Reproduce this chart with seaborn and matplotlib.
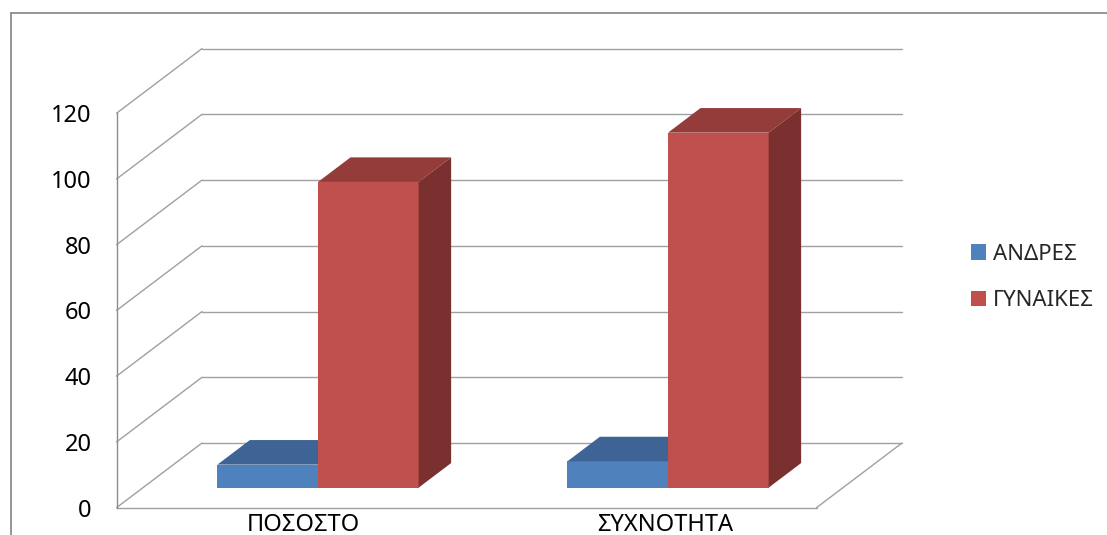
import matplotlib
matplotlib.use("Agg")
import matplotlib.pyplot as plt
import matplotlib.transforms as mtransforms
from matplotlib.patches import Polygon, Patch
from matplotlib.lines import Line2D
import pandas as pd
import seaborn as sns

# ---- data -------------------------------------------------------------
categories = ["ΠΟΣΟΣΤΟ", "ΣΥΧΝΟΤΗΤΑ"]
groups = ["ΑΝΔΡΕΣ", "ΓΥΝΑΙΚΕΣ"]
men = [7, 8]
women = [93, 108]
y_ticks = [0, 20, 40, 60, 80, 100, 120]

# ---- styling ----------------------------------------------------------
front_col = {"ΑΝΔΡΕΣ": "#4F81BD", "ΓΥΝΑΙΚΕΣ": "#C0504D"}
top_col = {"ΑΝΔΡΕΣ": "#3D6494", "ΓΥΝΑΙΚΕΣ": "#943C3A"}
side_col = {"ΑΝΔΡΕΣ": "#335580", "ΓΥΝΑΙΚΕΣ": "#7A302E"}
grid_col = "#A0A0A0"
axis_col = "#8C8C8C"

# oblique depth vector for the full floor depth (data units)
DX, DY = 0.2443, 19.68
# depth slice occupied by the columns (fraction of the floor depth)
D0, D1 = 0.31, 0.69

df = pd.DataFrame({
    "category": categories * 2,
    "group": [groups[0]] * len(categories) + [groups[1]] * len(categories),
    "value": men + women,
})

sns.set_style("white")
plt.rcParams["font.family"] = ["Noto Sans", "DejaVu Sans"]

fig = plt.figure(figsize=(11.07, 5.35), dpi=100)
ax = fig.add_axes([0, 0, 1, 1])

sns.barplot(data=df, x="category", y="value", hue="group",
            order=categories, hue_order=groups, palette=front_col,
            saturation=1, width=0.575, legend=False, ax=ax,
            linewidth=0)

ax.set_xlim(-0.8329, 2.33)
ax.set_ylim(-8.31, 154.46)

# ---- walls and floor --------------------------------------------------
x_left, x_right = -0.5, len(categories) - 0.5
for v in y_ticks:
    # side wall
    ax.plot([x_left, x_left + DX], [v, v + DY], color=grid_col, lw=1.0, zorder=1)
    # back wall
    ax.plot([x_left + DX, x_right + DX], [v + DY, v + DY], color=grid_col,
            lw=1.0, zorder=1)
# floor front edge and right edge
ax.plot([x_left, x_right], [0, 0], color=grid_col, lw=1.0, zorder=1)
ax.plot([x_right, x_right + DX], [0, DY], color=grid_col, lw=1.0, zorder=1)

# ---- columns: push front faces into depth and add top / side faces -----
ox, oy = D0 * DX, D0 * DY
ddx, ddy = (D1 - D0) * DX, (D1 - D0) * DY
shift = mtransforms.Affine2D().translate(ox, oy) + ax.transData
for level, (container, g) in enumerate(zip(ax.containers, groups)):
    z = 3 + level
    for bar in container:
        bar.set_transform(shift)
        bar.set_zorder(z)
        x0 = bar.get_x() + ox
        x1 = bar.get_x() + bar.get_width() + ox
        y0 = oy
        y1 = bar.get_height() + oy
        top = Polygon([(x0, y1), (x1, y1), (x1 + ddx, y1 + ddy), (x0 + ddx, y1 + ddy)],
                      closed=True, facecolor=top_col[g], edgecolor="none", zorder=z)
        side = Polygon([(x1, y0), (x1, y1), (x1 + ddx, y1 + ddy), (x1 + ddx, y0 + ddy)],
                       closed=True, facecolor=side_col[g], edgecolor="none", zorder=z)
        ax.add_patch(top)
        ax.add_patch(side)

# ---- axes -------------------------------------------------------------
for name in ["top", "right", "bottom"]:
    ax.spines[name].set_visible(False)
ax.spines["left"].set_position(("data", x_left))
ax.spines["left"].set_bounds(y_ticks[0], y_ticks[-1])
ax.spines["left"].set_color(axis_col)
ax.spines["left"].set_linewidth(1.0)
ax.spines["left"].set_zorder(2)
ax.set_yticks(y_ticks)
ax.tick_params(axis="y", direction="out", length=4.8, width=1.0,
               color=axis_col, labelsize=17, pad=13, labelcolor="black")
ax.set_xticks([])
ax.set_xlabel("")
ax.set_ylabel("")
ax.patch.set_alpha(0)

for i, cat in enumerate(categories):
    ax.text(i - 0.127, -7.0, cat, ha="left", va="baseline", fontsize=17,
            color="black")

# ---- legend -----------------------------------------------------------
handles = [Patch(facecolor=front_col[g], edgecolor="none") for g in groups]
ax.legend(handles, groups, loc="center left",
          bbox_to_anchor=(971 / 1107, (535 - 277.5) / 535),
          bbox_transform=fig.transFigure, frameon=False, fontsize=16,
          handlelength=0.68, handleheight=0.68, handletextpad=0.32,
          labelspacing=1.15, borderpad=0, borderaxespad=0)

# ---- chart frame ------------------------------------------------------
fig.add_artist(Line2D([11 / 1107, 11 / 1107], [0, (535 - 13) / 535],
                      transform=fig.transFigure, color="#8C8C8C", lw=1.3))
fig.add_artist(Line2D([11 / 1107, 1], [(535 - 13) / 535, (535 - 13) / 535],
                      transform=fig.transFigure, color="#8C8C8C", lw=1.3))

fig.savefig("out.png", dpi=100)
